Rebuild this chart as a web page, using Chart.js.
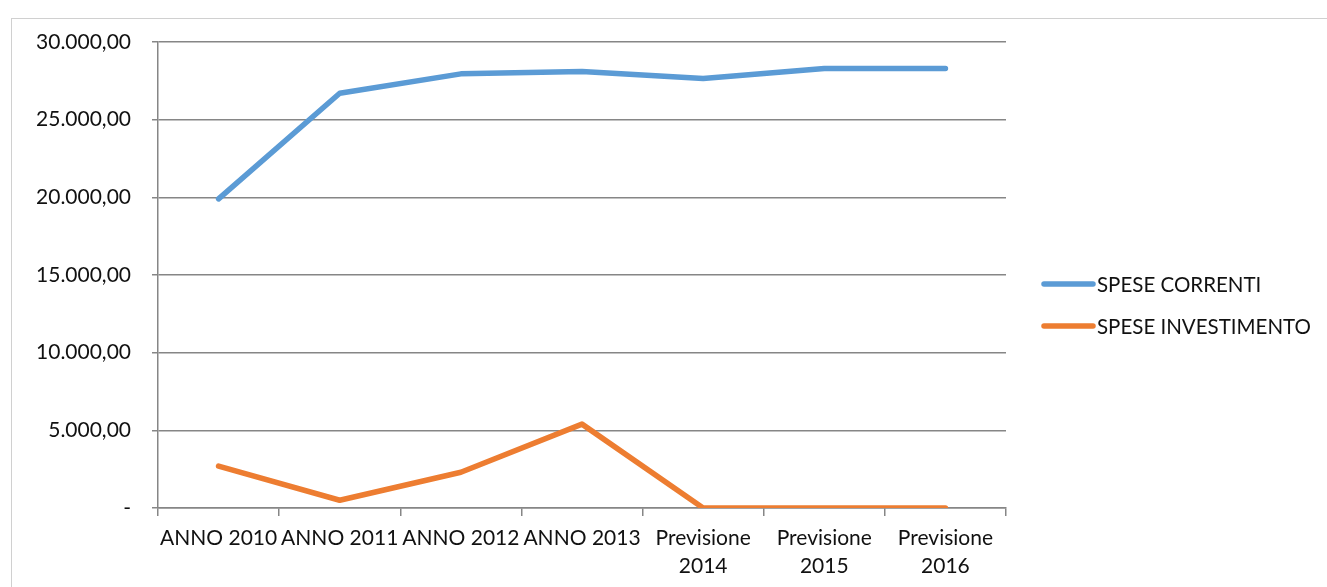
<!DOCTYPE html>
<html>
<head>
<meta charset="utf-8">
<script src="https://cdn.jsdelivr.net/npm/chart.js@4/dist/chart.umd.min.js"></script>
<style>
  body { margin: 0; background: #fff; }
  #wrap { position: relative; width: 1327px; height: 587px; overflow: hidden; }
  #frame { position: absolute; left: 11px; top: 18px; width: 1400px; height: 700px;
           border-left: 1px solid #d0d0d0; border-top: 1px solid #d0d0d0; }
  canvas { position: absolute; left: 0; top: 0; }
</style>
</head>
<body>
<div id="wrap">
  <div id="frame"></div>
  <canvas id="chart-area" width="1327" height="587"></canvas>
</div>
<script>
var categories = ['ANNO 2010', 'ANNO 2011', 'ANNO 2012', 'ANNO 2013',
  ['Previsione', '2014'], ['Previsione', '2015'], ['Previsione', '2016']];
var speseCorrenti = [19900, 26700, 27950, 28100, 27650, 28300, 28300];
var speseInvestimento = [2700, 500, 2300, 5400, 0, 0, 0];
var seriesNames = ['SPESE CORRENTI', 'SPESE INVESTIMENTO'];
var seriesColors = ['#5B9BD5', '#ED7D31'];
var yTicks = [0, 5000, 10000, 15000, 20000, 25000, 30000];

var FONT = 'Lato';

function formatIt(v) {
  if (v === 0) return '-';
  var s = Math.round(v).toString().replace(/\B(?=(\d{3})+(?!\d))/g, '.');
  return s + ',00';
}

// legend drawn on the right, Excel style
var sideLegend = {
  id: 'sideLegend',
  afterDraw: function(chart) {
    var ctx = chart.ctx;
    ctx.save();
    ctx.font = '20.5px ' + FONT;
    ctx.textBaseline = 'middle';
    ctx.fillStyle = '#111';
    chart.data.datasets.forEach(function(ds, i) {
      var y = 284 + i * 42;
      ctx.strokeStyle = ds.borderColor;
      ctx.lineWidth = 5.5;
      ctx.lineCap = 'round';
      ctx.beginPath();
      ctx.moveTo(1044, y);
      ctx.lineTo(1093, y);
      ctx.stroke();
      ctx.fillText(ds.label, 1097, y + 1);
    });
    ctx.restore();
  }
};

var config = {
  type: 'line',
  data: {
    labels: categories,
    datasets: [{
      label: seriesNames[0],
      data: speseCorrenti,
      borderColor: seriesColors[0],
      backgroundColor: seriesColors[0],
      borderWidth: 5.5,
      pointRadius: 0,
      borderCapStyle: 'round',
      borderJoinStyle: 'round',
      tension: 0
    }, {
      label: seriesNames[1],
      data: speseInvestimento,
      borderColor: seriesColors[1],
      backgroundColor: seriesColors[1],
      borderWidth: 5.5,
      pointRadius: 0,
      borderCapStyle: 'round',
      borderJoinStyle: 'round',
      tension: 0
    }]
  },
  options: {
    responsive: false,
    animation: false,
    layout: { padding: { left: 0, right: 321, top: 42, bottom: 0 } },
    plugins: {
      legend: { display: false },
      tooltip: { enabled: false }
    },
    scales: {
      x: {
        offset: true,
        grid: {
          offset: true,
          drawOnChartArea: false,
          drawTicks: true,
          tickLength: 8,
          color: '#868686',
          lineWidth: 1.5
        },
        border: { color: '#868686', width: 1.5 },
        ticks: {
          color: '#111',
          font: { family: FONT, size: 21, lineHeight: 1.33 },
          maxRotation: 0,
          autoSkip: false,
          padding: 8
        },
        afterFit: function(scale) { scale.height = 79; }
      },
      y: {
        min: 0,
        max: 30000,
        afterBuildTicks: function(scale) {
          scale.ticks = yTicks.map(function(v) { return { value: v }; });
        },
        grid: {
          color: '#868686',
          lineWidth: 1.5,
          tickLength: 6
        },
        border: { color: '#868686', width: 1.5 },
        ticks: {
          color: '#111',
          font: { family: FONT, size: 21 },
          padding: 21,
          callback: function(v) { return formatIt(v); }
        },
        afterFit: function(scale) { scale.width = 158; }
      }
    }
  },
  plugins: [sideLegend]
};

window.onload = function() {
  var ctx = document.getElementById('chart-area').getContext('2d');
  window.myLine = new Chart(ctx, config);
};
</script>
</body>
</html>
